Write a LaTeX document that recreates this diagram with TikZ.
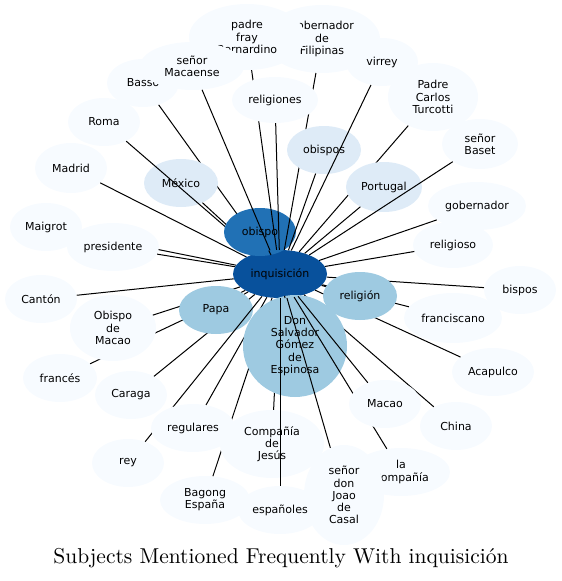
\documentclass[tikz,border=0pt]{standalone}
\usepackage{fontspec}
\usetikzlibrary{shapes.geometric}
\newfontfamily\dejavu{DejaVu Sans}
\newfontfamily\titlefont{lmroman10-regular.otf}
\definecolor{bA}{HTML}{08519C}
\definecolor{bB}{HTML}{2171B5}
\definecolor{bC}{HTML}{9ECAE1}
\definecolor{bD}{HTML}{DEEBF7}
\definecolor{bE}{HTML}{F7FBFF}
\tikzset{
  nd/.style={ellipse, inner sep=0pt, align=center, text=black,
    font=\dejavu\fontsize{11}{12.2}\selectfont},
  lvA/.style={nd, fill=bA},
  lvB/.style={nd, fill=bB},
  lvC/.style={nd, fill=bC},
  lvD/.style={nd, fill=bD},
  lvE/.style={nd, fill=bE},
  sz/.style 2 args={minimum width=#1pt, minimum height=#2pt},
  edge/.style={draw=black, line width=1pt},
}
\begin{document}
\begin{tikzpicture}[x=1pt,y=-1pt]
\useasboundingbox (0,0) rectangle (562,581);
\node[lvA, sz={94}{48}] (inq) at (280,274) {inquisición};
\node[lvE, sz={72}{48}] (basso) at (143,83) {Basso};
\draw[edge] (inq) -- (basso);
\node[lvD, sz={74}{48}] (mexico) at (181,183) {México};
\draw[edge] (inq) -- (mexico);
\node[lvE, sz={72}{48}] (roma) at (104,122) {Roma};
\draw[edge] (inq) -- (roma);
\node[lvB, sz={72}{48}] (obispo) at (260,232) {obispo};
\draw[edge] (inq) -- (obispo);
\node[lvE, sz={116}{68}] (gobfil) at (322,39) {gobernador\\de\\Filipinas};
\draw[edge] (inq) -- (gobfil);
\node[lvE, sz={116}{66}] (padrefray) at (247,37) {padre\\fray\\Bernardino};
\draw[edge] (inq) -- (padrefray);
\node[lvE, sz={104}{48}] (macaense) at (192,66) {señor\\Macaense};
\draw[edge] (inq) -- (macaense);
\node[lvD, sz={74}{48}] (obispos) at (324,150) {obispos};
\draw[edge] (inq) -- (obispos);
\node[lvE, sz={86}{46}] (religiones) at (275,100) {religiones};
\draw[edge] (inq) -- (religiones);
\node[lvE, sz={72}{48}] (virrey) at (382,62) {virrey};
\draw[edge] (inq) -- (virrey);
\node[lvE, sz={90}{68}] (carlos) at (433,97) {Padre\\Carlos\\Turcotti};
\draw[edge] (inq) -- (carlos);
\node[lvD, sz={76}{50}] (portugal) at (384,187) {Portugal};
\draw[edge] (inq) -- (portugal);
\node[lvE, sz={76}{50}] (baset) at (480,144) {señor\\Baset};
\draw[edge] (inq) -- (baset);
\node[lvE, sz={98}{48}] (gobernador) at (477,206) {gobernador};
\draw[edge] (inq) -- (gobernador);
\node[lvE, sz={80}{46}] (religioso) at (453,245) {religioso};
\draw[edge] (inq) -- (religioso);
\node[lvE, sz={72}{48}] (bispos) at (520,290) {bispos};
\draw[edge] (inq) -- (bispos);
\node[lvE, sz={98}{50}] (franciscano) at (453,318) {franciscano};
\draw[edge] (inq) -- (franciscano);
\node[lvE, sz={82}{48}] (acapulco) at (493,372) {Acapulco};
\draw[edge] (inq) -- (acapulco);
\node[lvC, sz={74}{48}] (religion) at (360,296) {religión};
\draw[edge] (inq) -- (religion);
\node[lvE, sz={72}{50}] (madrid) at (71,168) {Madrid};
\draw[edge] (inq) -- (madrid);
\node[lvE, sz={72}{48}] (maigrot) at (46,227) {Maigrot};
\draw[edge] (inq) -- (maigrot);
\node[lvE, sz={92}{48}] (presidente) at (113,247) {presidente};
\draw[edge] (inq) -- (presidente);
\node[lvE, sz={72}{48}] (canton) at (41,299) {Cantón};
\draw[edge] (inq) -- (canton);
\node[lvE, sz={74}{48}] (frances) at (60,378) {francés};
\draw[edge] (inq) -- (frances);
\node[lvE, sz={86}{66}] (obmacao) at (113,328) {Obispo\\de\\Macao};
\draw[edge] (inq) -- (obmacao);
\node[lvE, sz={72}{48}] (caraga) at (131,395) {Caraga};
\draw[edge] (inq) -- (caraga);
\node[lvC, sz={74}{48}] (papa) at (216,310) {Papa};
\draw[edge] (inq) -- (papa);
\node[lvE, sz={72}{48}] (rey) at (128,463) {rey};
\draw[edge] (inq) -- (rey);
\node[lvE, sz={90}{48}] (bagong) at (205,500) {Bagong\\España};
\draw[edge] (inq) -- (bagong);
\node[lvE, sz={84}{48}] (regulares) at (193,428) {regulares};
\draw[edge] (inq) -- (regulares);
\node[lvE, sz={104}{68}] (cdj) at (272,444) {Compañía\\de\\Jesús};
\draw[edge] (inq) -- (cdj);
\node[lvE, sz={72}{48}] (china) at (456,426) {China};
\draw[edge] (inq) -- (china);
\node[lvC, sz={104}{102}] (ds) at (295,346) {Don\\Salvador\\Gómez\\de\\Espinosa};
\draw[edge] (inq) -- (ds);
\node[lvE, sz={98}{48}] (lacomp) at (401,472) {la\\Compañía};
\draw[edge] (inq) -- (lacomp);
\node[lvE, sz={72}{48}] (macao) at (385,404) {Macao};
\draw[edge] (inq) -- (macao);
\node[lvE, sz={80}{100}] (joao) at (344,495) {señor\\don\\Joao\\de\\Casal};
\draw[edge] (inq) -- (joao);
\node[lvE, sz={84}{48}] (espanoles) at (280,510) {españoles};
\draw[edge] (inq) -- (espanoles);
\node[font=\titlefont\fontsize{21.5}{26}\selectfont, inner sep=0pt] (title) at (281,558) {Subjects Mentioned Frequently With inquisición};
\end{tikzpicture}
\end{document}
